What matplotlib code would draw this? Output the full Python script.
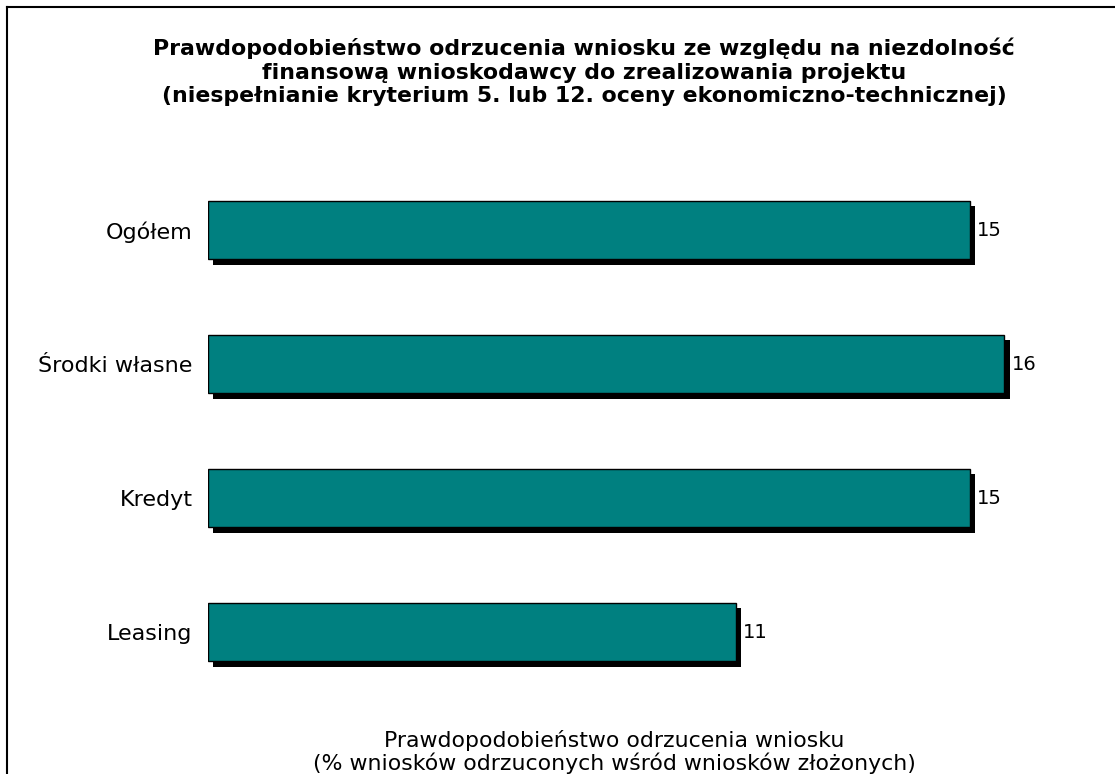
import matplotlib.pyplot as plt
import matplotlib.patheffects as pe
from matplotlib.lines import Line2D

kategorie = ['Ogółem', 'Środki własne', 'Kredyt', 'Leasing']
wartosci = [15.3, 16.0, 15.3, 10.6]

tytul = ('Prawdopodobieństwo odrzucenia wniosku ze względu na niezdolność\n'
         'finansową wnioskodawcy do zrealizowania projektu\n'
         '(niespełnianie kryterium 5. lub 12. oceny ekonomiczno-technicznej)')
opis_osi = ('Prawdopodobieństwo odrzucenia wniosku\n'
            '(% wniosków odrzuconych wśród wniosków złożonych)')

W, H = 1115, 774
fig = plt.figure(figsize=(W / 100, H / 100), dpi=100)
ax = fig.add_axes([208 / W, (H - 699) / H, 896 / W, 536 / H])

cien = [pe.SimplePatchShadow(offset=(3.8, -3.8), shadow_rgbFace='black', alpha=1.0),
        pe.Normal()]
bary = ax.barh(range(len(kategorie)), wartosci, height=0.44, color='#008080',
               edgecolor='black', linewidth=1.0)
for b in bary:
    b.set_path_effects(cien)

for i, v in enumerate(wartosci):
    ax.annotate(f'{v:.0f}', (v, i), xytext=(5.5, 0), textcoords='offset points',
                va='center', ha='left', fontsize=14)

ax.set_xlim(0, 18)
ax.set_ylim(3.5, -0.5)
ax.set_yticks(range(len(kategorie)))
ax.set_yticklabels(kategorie, fontsize=16)
ax.tick_params(axis='y', length=0, pad=11)
ax.set_xticks([])
for s in ax.spines.values():
    s.set_visible(False)

fig.text(584 / W, 1 - 72 / H, tytul, ha='center', va='center', fontsize=15.8,
         fontweight='bold', linespacing=1.22)
fig.text(614 / W, 1 - 752 / H, opis_osi, ha='center', va='center', fontsize=15.8,
         linespacing=1.05)

# ramka: tylko góra i lewa krawędź
fig.add_artist(Line2D([7 / W, 1], [1 - 7 / H, 1 - 7 / H], color='black', lw=1.5,
                      transform=fig.transFigure))
fig.add_artist(Line2D([7 / W, 7 / W], [0, 1 - 7 / H], color='black', lw=1.5,
                      transform=fig.transFigure))

fig.savefig('out.png', dpi=100)
